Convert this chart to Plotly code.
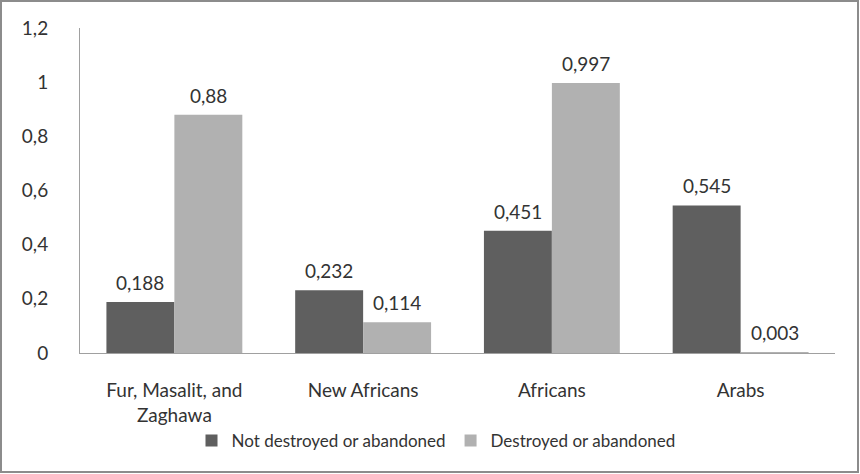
import plotly.graph_objects as go

# Village status by ethnic group
categories = ["Fur, Masalit, and<br>Zaghawa", "New Africans", "Africans", "Arabs"]
not_destroyed = [0.188, 0.232, 0.451, 0.545]
destroyed = [0.88, 0.114, 0.997, 0.003]
series_names = ["Not destroyed or abandoned", "Destroyed or abandoned"]
y_ticks = [0, 0.2, 0.4, 0.6, 0.8, 1.0, 1.2]

W, H = 860, 474
ML, MR, MT, MB = 80, 25, 28, 121
PW, PH = W - ML - MR, H - MT - MB
BARGAP = 0.28

FONT = "Lato"
TXT = "#333333"


def fmt(v):
    return f"{v:g}".replace(".", ",")


def px_x(p):
    return (p - ML) / PW


def px_y(p):
    return (H - MB - p) / PH


fig = go.Figure()
series = [
    (series_names[0], not_destroyed, "#5f5f5f"),
    (series_names[1], destroyed, "#b1b1b1"),
]
for name, vals, col in series:
    fig.add_trace(go.Bar(
        x=categories, y=vals, name=name,
        marker=dict(color=col, line=dict(width=0)),
        cliponaxis=False,
    ))

# value labels above each bar, offset to the centre of its bar in the group
bar_px = PW / len(categories) * (1 - BARGAP) / len(series)
annotations = []
for i, (name, vals, col) in enumerate(series):
    shift = (i - (len(series) - 1) / 2) * bar_px
    for cat, v in zip(categories, vals):
        annotations.append(dict(
            x=cat, y=v, xref="x", yref="y", text=fmt(v),
            showarrow=False, xshift=shift, yanchor="bottom", yshift=6,
            font=dict(family=FONT, size=19, color=TXT),
        ))

fig.update_layout(
    width=W, height=H,
    margin=dict(l=ML, r=MR, t=MT, b=MB),
    paper_bgcolor="white", plot_bgcolor="white",
    barmode="group", bargap=BARGAP, bargroupgap=0,
    separators=",.",
    font=dict(family=FONT, size=19, color=TXT),
    showlegend=True,
    legend=dict(
        orientation="h", x=px_x(436), xanchor="center",
        y=px_y(441), yanchor="middle",
        font=dict(family=FONT, size=17, color=TXT),
        itemwidth=30, traceorder="normal",
    ),
    xaxis=dict(
        showline=True, linecolor="#a0a0a0", linewidth=1,
        showgrid=False, ticks="", ticklabelstandoff=20,
        tickfont=dict(family=FONT, size=19, color=TXT),
    ),
    yaxis=dict(
        range=[0, 1.2], tickvals=y_ticks,
        showline=True, linecolor="#a0a0a0", linewidth=1,
        showgrid=False, zeroline=False, ticks="", ticklabelstandoff=27,
        tickfont=dict(family=FONT, size=19, color=TXT),
    ),
    annotations=annotations,
    shapes=[dict(
        type="rect", xref="paper", yref="paper",
        x0=px_x(1), x1=px_x(858), y0=px_y(472), y1=px_y(1),
        line=dict(color="#8c8c8c", width=2), fillcolor="rgba(0,0,0,0)",
        layer="above",
    )],
)

fig.write_html("out.html")
